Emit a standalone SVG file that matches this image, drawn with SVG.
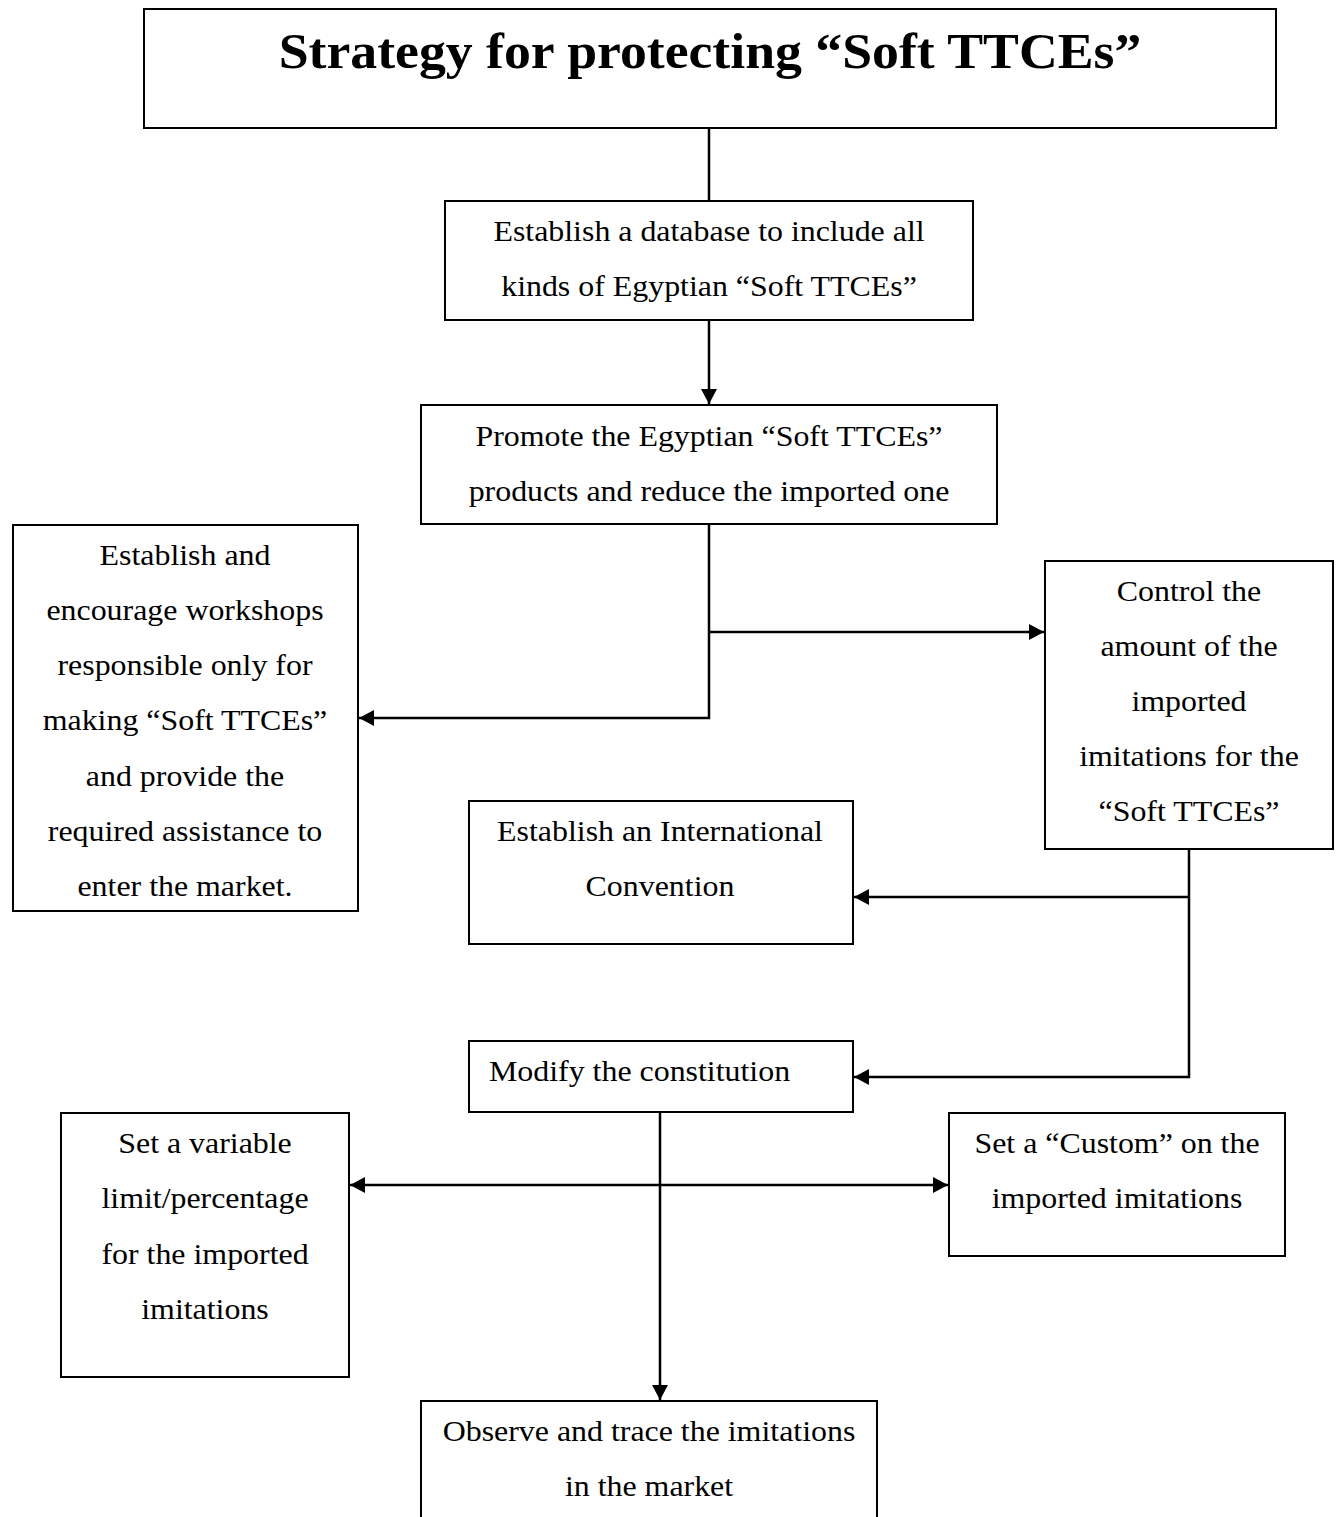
<svg xmlns="http://www.w3.org/2000/svg" width="1340" height="1517" viewBox="0 0 1340 1517">
<style>
.box{fill:#fff;stroke:#000;stroke-width:2}
.t{font-family:"Liberation Serif","Times New Roman",serif;font-size:29px;fill:#000;text-anchor:middle}
.title{font-family:"Liberation Serif","Times New Roman",serif;font-size:50px;font-weight:bold;fill:#000;text-anchor:middle}
.c{fill:none;stroke:#000;stroke-width:2.5}
</style>
<defs>
<marker id="ah" markerUnits="userSpaceOnUse" markerWidth="18" markerHeight="18" refX="15" refY="8" orient="auto">
<path d="M0,0 L15,8 L0,16 Z" fill="#000"/>
</marker>
<marker id="as" markerUnits="userSpaceOnUse" markerWidth="18" markerHeight="18" refX="0" refY="8" orient="auto">
<path d="M15,0 L0,8 L15,16 Z" fill="#000"/>
</marker>
</defs>
<rect width="1340" height="1517" fill="#fff"/>
<g id="connectors">
<path class="c" d="M709,128 V201"/>
<path class="c" d="M709,320 V404" marker-end="url(#ah)"/>
<path class="c" d="M709,524 V718 H359" marker-end="url(#ah)"/>
<path class="c" d="M709,632 H1044" marker-end="url(#ah)"/>
<path class="c" d="M1189,849 V1077 H854" marker-end="url(#ah)"/>
<path class="c" d="M1189,897 H854" marker-end="url(#ah)"/>
<path class="c" d="M660,1112 V1400" marker-end="url(#ah)"/>
<path class="c" d="M350,1185 H948" marker-start="url(#as)" marker-end="url(#ah)"/>
</g>
<g id="title">
<rect class="box" x="144" y="9" width="1132" height="119"/>
<g transform="translate(710,0) scale(1.075,1)">
<text class="title" x="0" y="68">Strategy for protecting “Soft TTCEs”</text>
</g>
</g>
<g id="database">
<rect class="box" x="445" y="201" width="528" height="119"/>
<g transform="translate(709,0) scale(1.1,1)">
<text class="t" x="0" y="241">Establish a database to include all</text>
<text class="t" x="0" y="296">kinds of Egyptian “Soft TTCEs”</text>
</g>
</g>
<g id="promote">
<rect class="box" x="421" y="405" width="576" height="119"/>
<g transform="translate(709,0) scale(1.1,1)">
<text class="t" x="0" y="446">Promote the Egyptian “Soft TTCEs”</text>
<text class="t" x="0" y="501">products and reduce the imported one</text>
</g>
</g>
<g id="workshops">
<rect class="box" x="13" y="525" width="345" height="386"/>
<g transform="translate(185,0) scale(1.1,1)">
<text class="t" x="0" y="565">Establish and</text>
<text class="t" x="0" y="620">encourage workshops</text>
<text class="t" x="0" y="675">responsible only for</text>
<text class="t" x="0" y="730">making “Soft TTCEs”</text>
<text class="t" x="0" y="786">and provide the</text>
<text class="t" x="0" y="841">required assistance to</text>
<text class="t" x="0" y="896">enter the market.</text>
</g>
</g>
<g id="control">
<rect class="box" x="1045" y="561" width="288" height="288"/>
<g transform="translate(1189,0) scale(1.1,1)">
<text class="t" x="0" y="601">Control the</text>
<text class="t" x="0" y="656">amount of the</text>
<text class="t" x="0" y="711">imported</text>
<text class="t" x="0" y="766">imitations for the</text>
<text class="t" x="0" y="821">“Soft TTCEs”</text>
</g>
</g>
<g id="convention">
<rect class="box" x="469" y="801" width="384" height="143"/>
<g transform="translate(660,0) scale(1.1,1)">
<text class="t" x="0" y="841">Establish an International</text>
<text class="t" x="0" y="896">Convention</text>
</g>
</g>
<g id="constitution">
<rect class="box" x="469" y="1041" width="384" height="71"/>
<g transform="translate(489,0) scale(1.1,1)">
<text class="t" x="0" y="1081" style="text-anchor:start">Modify the constitution</text>
</g>
</g>
<g id="limit">
<rect class="box" x="61" y="1113" width="288" height="264"/>
<g transform="translate(205,0) scale(1.1,1)">
<text class="t" x="0" y="1153">Set a variable</text>
<text class="t" x="0" y="1208">limit/percentage</text>
<text class="t" x="0" y="1264">for the imported</text>
<text class="t" x="0" y="1319">imitations</text>
</g>
</g>
<g id="custom">
<rect class="box" x="949" y="1113" width="336" height="143"/>
<g transform="translate(1117,0) scale(1.1,1)">
<text class="t" x="0" y="1153">Set a “Custom” on the</text>
<text class="t" x="0" y="1208">imported imitations</text>
</g>
</g>
<g id="observe">
<rect class="box" x="421" y="1401" width="456" height="140"/>
<g transform="translate(649,0) scale(1.1,1)">
<text class="t" x="0" y="1441">Observe and trace the imitations</text>
<text class="t" x="0" y="1496">in the market</text>
</g>
</g>
</svg>
